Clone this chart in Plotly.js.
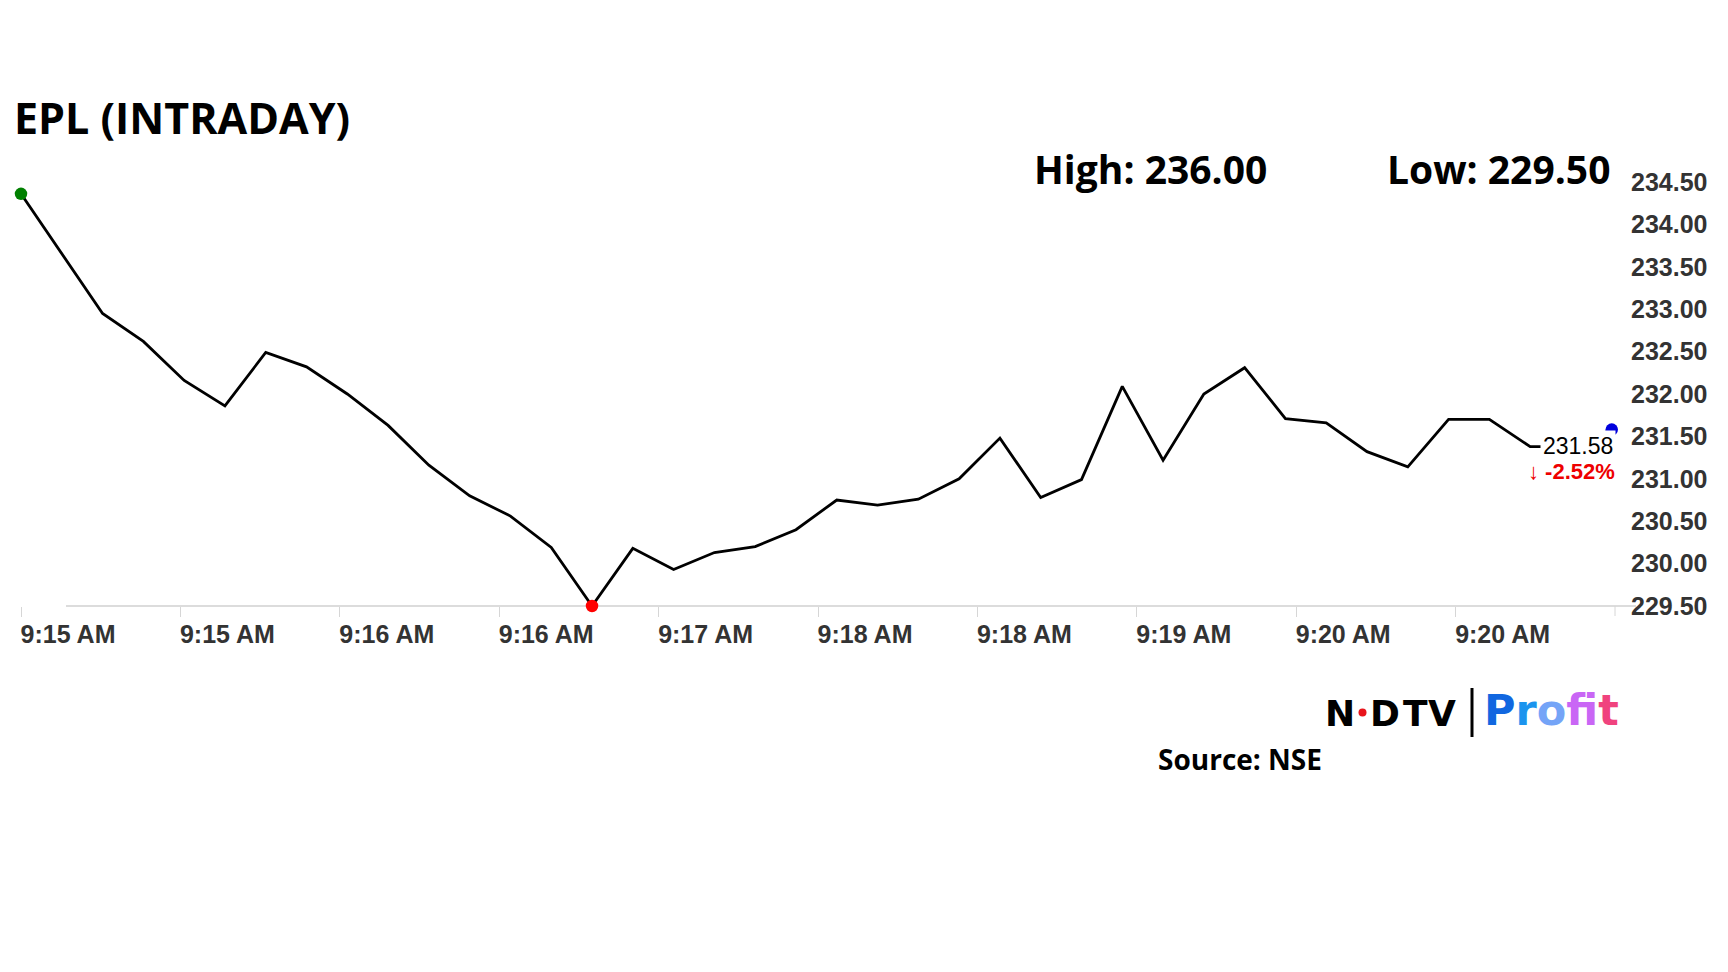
<!DOCTYPE html>
<html>
<head>
<meta charset="utf-8">
<script src="https://cdn.plot.ly/plotly-3.0.1.min.js"></script>
<style>
  html, body { margin: 0; padding: 0; background: #ffffff; }
  #chart { width: 1728px; height: 972px; }
</style>
</head>
<body>
<div id="chart"></div>
<script>
// ---- data ----
const prices = [234.36, 233.66, 232.95, 232.62, 232.16, 231.86, 232.49, 232.32, 232.00, 231.63,
                231.16, 230.80, 230.56, 230.19, 229.50, 230.18, 229.93, 230.13, 230.20, 230.40,
                230.75, 230.69, 230.76, 231.00, 231.48, 230.78, 230.99, 232.09, 231.22, 232.00,
                232.31, 231.71, 231.66, 231.32, 231.14, 231.70, 231.70, 231.38, 231.38, 231.58];
const timeLabels = ["9:15 AM", "9:15 AM", "9:16 AM", "9:16 AM", "9:17 AM", "9:18 AM",
                    "9:18 AM", "9:19 AM", "9:20 AM", "9:20 AM"];
const titleText = "EPL (INTRADAY)";
const dayHigh = "236.00";
const dayLow = "229.50";
const lastPrice = "231.58";
const changePct = "-2.52%";
const sourceText = "Source: NSE";
const logoLetters = ["N", "D", "T", "V"];
const brandLetters = ["P", "r", "o", "f", "i", "t"];
const brandColors = ["#1167e0", "#1b94ee", "#74a4f7", "#c966f5", "#f050e6", "#f0437e"];

// ---- geometry helpers (layout only) ----
const W = 1728, H = 972;
const PL = 21, PR = 1615, PT = 182, PB = 606;
const px = X => (X - PL) / (PR - PL);
const py = Y => (PB - Y) / (PB - PT);

const n = prices.length;
const xs = prices.map((_, i) => i);
const xMax = 39.08;
const tickStep = xMax / timeLabels.length;
const tickvals = timeLabels.map((_, k) => k * tickStep);
const iMin = prices.indexOf(Math.min(...prices));

const traces = [
  {
    x: xs, y: prices, type: 'scatter', mode: 'lines',
    line: { color: '#000000', width: 2.8 }, cliponaxis: false,
    hoverinfo: 'skip', showlegend: false
  },
  {
    x: [xs[0]], y: [prices[0]], type: 'scatter', mode: 'markers', cliponaxis: false,
    marker: { color: '#008000', size: 12.5 }, hoverinfo: 'skip', showlegend: false
  },
  {
    x: [xs[iMin]], y: [prices[iMin]], type: 'scatter', mode: 'markers', cliponaxis: false,
    marker: { color: '#ff0000', size: 12.5 }, hoverinfo: 'skip', showlegend: false
  },
  {
    x: [xs[n - 1]], y: [prices[n - 1]], type: 'scatter', mode: 'markers', cliponaxis: false,
    marker: { color: '#0000dd', size: 12.5 }, hoverinfo: 'skip', showlegend: false
  }
];

const tickFont = { family: 'Liberation Sans, Arial, sans-serif', size: 25, color: '#333333', weight: 700 };
const headFont = (s) => ({ family: 'Open Sans, sans-serif', size: s, color: '#000000', weight: 700 });

// NDTV logo letter centres (px)
const logoCenters = [1340, 1385, 1415, 1442];
const annotations = [
  { xref: 'paper', yref: 'paper', x: px(1032), y: py(168), xanchor: 'left', yanchor: 'middle',
    text: '<b>High: ' + dayHigh + '</b>', showarrow: false, font: headFont(39) },
  { xref: 'paper', yref: 'paper', x: px(1385), y: py(168), xanchor: 'left', yanchor: 'middle',
    text: '<b>Low: ' + dayLow + '</b>', showarrow: false, font: headFont(39) },
  { xref: 'paper', yref: 'paper', x: px(1616), y: py(446), xanchor: 'right', yanchor: 'middle',
    text: lastPrice, showarrow: false, bgcolor: '#ffffff', borderpad: 2,
    font: { family: 'Liberation Sans, Arial, sans-serif', size: 23, color: '#000000' } },
  { xref: 'paper', yref: 'paper', x: px(1617), y: py(471), xanchor: 'right', yanchor: 'middle',
    text: '<b>\u2193 ' + changePct + '</b>', showarrow: false,
    font: { family: 'Liberation Sans, Arial, sans-serif', size: 22, color: '#ee0000' } },
  { xref: 'paper', yref: 'paper', x: px(1156), y: py(759), xanchor: 'left', yanchor: 'middle',
    text: '<b>' + sourceText + '</b>', showarrow: false, font: headFont(28) },
  { xref: 'paper', yref: 'paper', x: px(1482), y: py(710), xanchor: 'left', yanchor: 'middle',
    text: '<b>' + brandLetters.map((c, i) => '<span style="color:' + brandColors[i] + '">' + c + '</span>').join('') + '</b>',
    showarrow: false, font: { family: 'DejaVu Sans, sans-serif', size: 43, weight: 700 } }
];
logoLetters.forEach((c, i) => {
  annotations.push({
    xref: 'paper', yref: 'paper', x: px(logoCenters[i]), y: py(713), xanchor: 'center', yanchor: 'middle',
    text: '<b>' + c + '</b>', showarrow: false,
    font: { family: 'DejaVu Sans, sans-serif', size: 36, color: '#000000', weight: 700 }
  });
});

const layout = {
  width: W, height: H,
  margin: { l: PL, r: W - PR, t: PT, b: H - PB, pad: 0 },
  paper_bgcolor: '#ffffff', plot_bgcolor: '#ffffff',
  showlegend: false,
  title: {
    text: '<b>' + titleText + '</b>',
    font: headFont(43),
    x: 14 / W, xanchor: 'left', xref: 'container',
    y: 1 - 119 / H, yanchor: 'middle', yref: 'container'
  },
  xaxis: {
    range: [0, xMax], showgrid: false, zeroline: false, showline: false,
    tickmode: 'array', tickvals: tickvals, ticktext: timeLabels,
    ticks: 'outside', ticklen: 10, tickwidth: 1, tickcolor: '#d6d6d6',
    tickfont: tickFont, ticklabelshift: 47, ticklabelstandoff: -4, fixedrange: true
  },
  yaxis: {
    side: 'right', range: [229.5, 234.5], dtick: 0.5, tick0: 229.5, tickformat: '.2f',
    showgrid: false, zeroline: false, showline: false, ticks: '',
    tickfont: tickFont, ticklabelstandoff: 15, fixedrange: true
  },
  shapes: [
    { type: 'line', xref: 'paper', yref: 'paper', x0: px(66), x1: px(1636), y0: 0, y1: 0,
      line: { color: '#dcdcdc', width: 2 }, layer: 'below' },
    // closing tick mark at the right end of the time axis
    { type: 'line', xref: 'paper', yref: 'paper', x0: 1, x1: 1, y0: 0, y1: py(PB + 10),
      line: { color: '#d6d6d6', width: 1 }, layer: 'below' },
    { type: 'line', xref: 'paper', yref: 'paper', x0: px(1472), x1: px(1472), y0: py(688), y1: py(737),
      line: { color: '#000000', width: 3 } },
    { type: 'circle', xref: 'paper', yref: 'paper', x0: px(1358.5), x1: px(1366.5), y0: py(716.5), y1: py(708.5),
      fillcolor: '#e8141b', line: { width: 0 } }
  ],
  annotations: annotations
};

Plotly.newPlot('chart', traces, layout, { displayModeBar: false, staticPlot: true });
</script>
</body>
</html>
